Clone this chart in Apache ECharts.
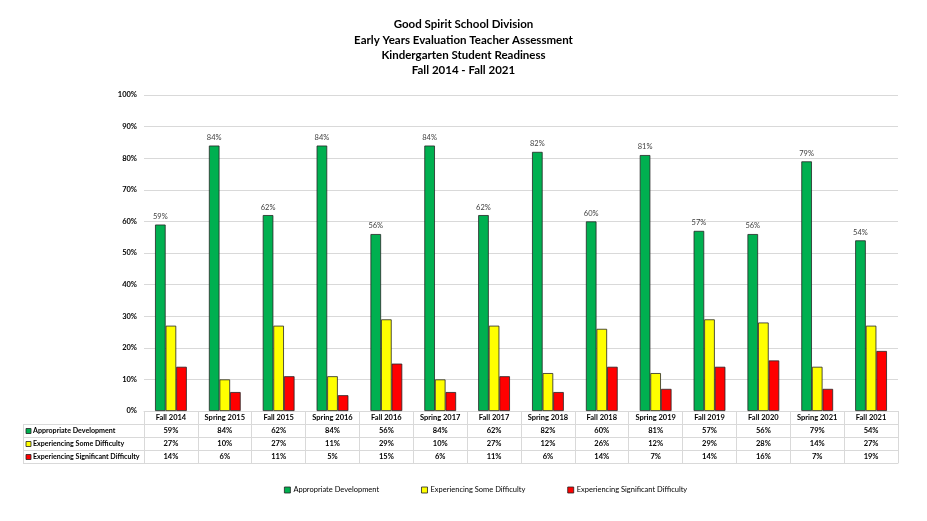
<!DOCTYPE html>
<html>
<head>
<meta charset="utf-8">
<script src="https://cdn.jsdelivr.net/npm/echarts@6/dist/echarts.min.js"></script>
<style>html,body{margin:0;padding:0;background:#fff}#c{width:927px;height:521px}</style>
</head>
<body>
<div id="c"></div>
<script>
var categories = ['Fall 2014','Spring 2015','Fall 2015','Spring 2016','Fall 2016','Spring 2017','Fall 2017','Spring 2018','Fall 2018','Spring 2019','Fall 2019','Fall 2020','Spring 2021','Fall 2021'];
var appropriate = [59,84,62,84,56,84,62,82,60,81,57,56,79,54];
var someDifficulty = [27,10,27,11,29,10,27,12,26,12,29,28,14,27];
var significantDifficulty = [14,6,11,5,15,6,11,6,14,7,14,16,7,19];
var seriesNames = ['Appropriate Development','Experiencing Some Difficulty','Experiencing Significant Difficulty'];
var seriesColors = ['#00b050','#ffff00','#ff0000'];
var yTicks = [0,10,20,30,40,50,60,70,80,90,100];

var FONT = 'Lato';
var GRID_L = 144, GRID_R = 29, GRID_T = 95, GRID_B = 110;
var ROW_H = 13;
var lineColor = '#d9d9d9';

var chart = echarts.init(document.getElementById('c'), null, {renderer:'canvas'});

function tableAxis(idx, values) {
  return {
    type: 'category', data: categories, gridIndex: 0, position: 'bottom',
    offset: ROW_H * idx,
    axisLine: {show: true, lineStyle: {color: lineColor, width: 1}},
    axisTick: {show: false},
    axisLabel: values ? {
      show: true, interval: 0, margin: 3, fontFamily: FONT, fontSize: 7.5, fontWeight: 'bold', color: '#000',
      formatter: function (v, i) { return values[i] + '%'; }
    } : {show: false},
    splitLine: {show: false}
  };
}

var xAxes = [{
  type: 'category', data: categories, gridIndex: 0, position: 'bottom',
  axisLine: {show: true, lineStyle: {color: lineColor, width: 1}},
  axisTick: {show: true, interval: 0, length: ROW_H * 4, lineStyle: {color: lineColor}},
  axisLabel: {show: true, interval: 0, margin: 3, fontFamily: FONT, fontSize: 7.5, fontWeight: 'bold', color: '#000'},
  splitLine: {show: false}
}, tableAxis(1, appropriate), tableAxis(2, someDifficulty), tableAxis(3, significantDifficulty), tableAxis(4, null)];

var graphics = [];
var x0 = 23;
for (var r = 1; r <= 4; r++) {
  var yy = 521 - GRID_B + ROW_H * r + 0.5;
  graphics.push({type:'line', shape:{x1:x0, y1:yy, x2:GRID_L, y2:yy}, style:{stroke:lineColor, lineWidth:1}, silent:true});
}
graphics.push({type:'line', shape:{x1:x0+0.5, y1:521-GRID_B+ROW_H, x2:x0+0.5, y2:521-GRID_B+ROW_H*4}, style:{stroke:lineColor, lineWidth:1}, silent:true});
for (var s = 0; s < 3; s++) {
  var cy = 521 - GRID_B + ROW_H * (s + 1) + ROW_H / 2 + 0.5;
  graphics.push({type:'rect', shape:{x:26, y:cy-2.5, width:5, height:5}, style:{fill:seriesColors[s], stroke:'#222', lineWidth:0.8}, silent:true});
  graphics.push({type:'text', x:33, y:cy, style:{text:seriesNames[s], font:'bold 7.1px ' + FONT, fill:'#000', verticalAlign:'middle', textVerticalAlign:'middle'}, silent:true});
}

var dataArrays = [appropriate, someDifficulty, significantDifficulty];
var series = dataArrays.map(function (arr, i) {
  return {
    name: seriesNames[i], type: 'bar', data: arr, xAxisIndex: 0,
    barGap: '0%', barCategoryGap: '41%',
    itemStyle: {color: seriesColors[i], borderColor: '#262626', borderWidth: 0.8},
    label: i === 0 ? {show: true, position: 'top', distance: 4, formatter: '{c}%', fontFamily: FONT, fontSize: 7.5, color: '#404040'} : {show: false},
    emphasis: {disabled: true}
  };
});

chart.setOption({
  animation: false,
  backgroundColor: '#fff',
  title: {
    text: 'Good Spirit School Division\nEarly Years Evaluation Teacher Assessment\nKindergarten Student Readiness\nFall 2014 - Fall 2021',
    left: 'center', top: 12,
    textStyle: {fontFamily: FONT, fontSize: 11.5, fontWeight: 'bold', color: '#000', lineHeight: 15.3}
  },
  legend: {
    data: seriesNames, top: 481, left: 279,
    itemWidth: 6, itemHeight: 6, itemGap: 42, icon: 'rect',
    textStyle: {fontFamily: FONT, fontSize: 7.5, color: '#000', padding: [0,0,0,-2]},
    itemStyle: {borderColor: '#222', borderWidth: 0.8}
  },
  grid: {left: GRID_L, right: GRID_R, top: GRID_T, bottom: GRID_B, containLabel: false},
  xAxis: xAxes,
  yAxis: {
    type: 'value', min: 0, max: 100, interval: 10,
    axisLine: {show: false}, axisTick: {show: false},
    axisLabel: {margin: 7, fontFamily: FONT, fontSize: 7.5, fontWeight: 'bold', color: '#000', formatter: function (v) { return yTicks.indexOf(v) >= 0 ? v + '%' : ''; }},
    splitLine: {lineStyle: {color: lineColor, width: 1}}
  },
  graphic: graphics,
  series: series
});
</script>
</body>
</html>
